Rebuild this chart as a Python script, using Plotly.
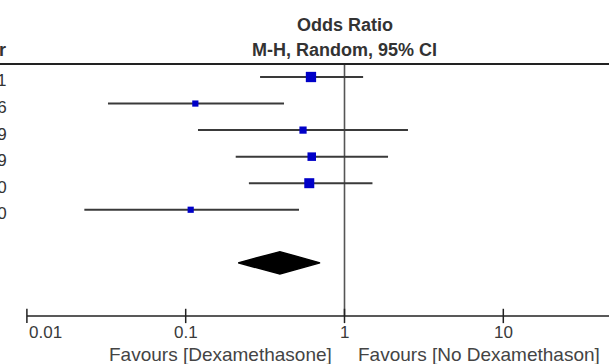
import numpy as np
import plotly.graph_objects as go

# ---------------- data ----------------
years = ["2011", "2006", "2009", "2009", "2010", "2010"]
or_est = [0.615, 0.115, 0.548, 0.622, 0.600, 0.1075]
ci_low = [0.294, 0.0324, 0.1195, 0.2065, 0.250, 0.023]
ci_high = [1.31, 0.416, 2.51, 1.88, 1.50, 0.517]
weights = [26.0, 9.4, 12.8, 17.9, 24.5, 9.4]

pooled_est = 0.392
pooled_low = 0.214
pooled_high = 0.701

tick_vals = [0.01, 0.1, 1, 10, 100]
tick_text = ["0.01", "0.1", "1", "10", "100"]

header_top = "Odds Ratio"
header_sub = "M-H, Random, 95% CI"
year_header = "Year"
favours_left = "Favours [Dexamethasone]"
favours_right = "Favours [No Dexamethason]"

# ---------------- layout geometry ----------------
W, H = 609, 364
PX_ONE, PX_DEC = 344.5, 158.8          # pixel of OR=1, pixels per decade
ROW0, ROWH = 77.0, 26.55               # pixel of first row, row height
xr = [(0 - PX_ONE) / PX_DEC, (W - PX_ONE) / PX_DEC]
yr = [(H - ROW0) / ROWH, (0 - ROW0) / ROWH]

rows = list(range(len(years)))
pooled_row = 7
axis_row = 9
header_line_row = (64 - ROW0) / ROWH

FONT = "Liberation Sans, Arial, sans-serif"
TXT = "#333333"

fig = go.Figure()

# line of no effect
fig.add_trace(go.Scatter(
    x=[1, 1], y=[header_line_row, axis_row], mode="lines",
    line=dict(color="#555555", width=1.6), hoverinfo="skip"))

# study estimates with CIs
fig.add_trace(go.Scatter(
    x=or_est, y=rows, mode="markers",
    marker=dict(symbol="square", color="#0000C8", opacity=1,
                size=[np.sqrt(w) * 2.02 for w in weights], line=dict(width=0)),
    error_x=dict(type="data", symmetric=False,
                 array=[h - o for h, o in zip(ci_high, or_est)],
                 arrayminus=[o - l for o, l in zip(or_est, ci_low)],
                 width=0, thickness=2, color="#3a3a3a"),
    hoverinfo="skip"))

# pooled diamond
dh = 0.42
fig.add_trace(go.Scatter(
    x=[pooled_low, pooled_est, pooled_high, pooled_est, pooled_low],
    y=[pooled_row, pooled_row - dh, pooled_row, pooled_row + dh, pooled_row],
    mode="lines", fill="toself", fillcolor="black",
    line=dict(color="black", width=1.5), hoverinfo="skip"))

# x axis line and ticks
fig.add_trace(go.Scatter(
    x=[tick_vals[0], tick_vals[-1]], y=[axis_row, axis_row], mode="lines",
    line=dict(color="#222222", width=1.5), hoverinfo="skip"))
tx, ty = [], []
for t in tick_vals:
    tx += [t, t, None]
    ty += [axis_row - 0.27, axis_row + 0.27, None]
fig.add_trace(go.Scatter(x=tx, y=ty, mode="lines",
                         line=dict(color="#222222", width=1.5), hoverinfo="skip"))

annotations = []
# tick labels
for i, (v, t) in enumerate(zip(tick_vals, tick_text)):
    annotations.append(dict(
        x=np.log10(v), y=axis_row + 0.62, xref="x", yref="y", text=t,
        showarrow=False, xanchor="left" if i == 0 else ("right" if i == len(tick_vals) - 1 else "center"),
        yanchor="middle", font=dict(family=FONT, size=17, color="#3a3a3a")))

# favours labels
annotations.append(dict(x=(334 - PX_ONE) / PX_DEC, y=axis_row + 1.46, xref="x", yref="y",
                        text=favours_left, showarrow=False, xanchor="right", yanchor="middle",
                        font=dict(family=FONT, size=19, color="#444444")))
annotations.append(dict(x=(356 - PX_ONE) / PX_DEC, y=axis_row + 1.46, xref="x", yref="y",
                        text=favours_right, showarrow=False, xanchor="left", yanchor="middle",
                        font=dict(family=FONT, size=19, color="#444444")))

# headers
annotations.append(dict(x=0, y=(25 - ROW0) / ROWH, xref="x", yref="y", text="<b>%s</b>" % header_top,
                        showarrow=False, xanchor="center", yanchor="middle",
                        font=dict(family=FONT, size=18, color=TXT)))
annotations.append(dict(x=0, y=(50 - ROW0) / ROWH, xref="x", yref="y", text="<b>%s</b>" % header_sub,
                        showarrow=False, xanchor="center", yanchor="middle",
                        font=dict(family=FONT, size=18, color=TXT)))
annotations.append(dict(x=8 / W, y=(50 - ROW0) / ROWH, xref="paper", yref="y", text="<b>%s</b>" % year_header,
                        showarrow=False, xanchor="right", yanchor="middle",
                        font=dict(family=FONT, size=18, color=TXT)))

# study year labels (mostly cropped at the left edge)
for r, yv in zip(rows, years):
    annotations.append(dict(x=9 / W, y=r + 0.15, xref="paper", yref="y", text=yv,
                            showarrow=False, xanchor="right", yanchor="middle",
                            font=dict(family=FONT, size=17, color=TXT)))

fig.update_layout(
    width=W, height=H, margin=dict(l=0, r=0, t=0, b=0),
    paper_bgcolor="white", plot_bgcolor="white", showlegend=False,
    xaxis=dict(type="log", range=xr, visible=False, fixedrange=True),
    yaxis=dict(range=yr, visible=False, fixedrange=True),
    annotations=annotations,
    shapes=[dict(type="line", xref="paper", yref="y", x0=0, x1=1,
                 y0=header_line_row, y1=header_line_row,
                 line=dict(color="#222222", width=2))],
)

fig.write_html("out.html")
